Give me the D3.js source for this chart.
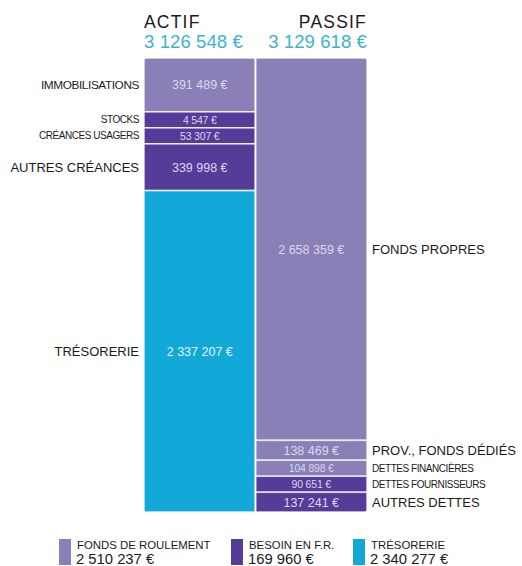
<!DOCTYPE html>
<html><head><meta charset="utf-8">
<script src="https://cdn.jsdelivr.net/npm/d3@7"></script>
<style>body{margin:0;background:#fff}svg{display:block;font-family:"Liberation Sans",Arial,sans-serif}</style>
</head><body><svg id="c" width="522" height="566"></svg>
<script>
const actifLabels = ["IMMOBILISATIONS","STOCKS","CRÉANCES USAGERS","AUTRES CRÉANCES","TRÉSORERIE"];
const actifValues = [391489, 4547, 53307, 339998, 2337207];
const actifGroups = ["fr","bfr","bfr","bfr","tr"];
const passifLabels = ["FONDS PROPRES","PROV., FONDS DÉDIÉS","DETTES FINANCIÈRES","DETTES FOURNISSEURS","AUTRES DETTES"];
const passifValues = [2658359, 138469, 104898, 90651, 137241];
const passifGroups = ["fr","fr","fr","bfr","bfr"];
const columnTitles = ["ACTIF","PASSIF"];
const columnTotals = [3126548, 3129618];
const legendKeys = ["fr","bfr","tr"];
const legendLabels = ["FONDS DE ROULEMENT","BESOIN EN F.R.","TRÉSORERIE"];
const legendValues = [2510237, 169960, 2340277];

const color = d3.scaleOrdinal().domain(["fr","bfr","tr"]).range(["#8a7fb7","#553c98","#12a9d9"]);
const loc = d3.formatLocale({decimal:",", thousands:"\u00a0", grouping:[3], currency:[""," €"]});
const fmt = v => loc.format(",")(v) + "\u00a0€";

const svg = d3.select("#c");
const yTop = 58, yBottom = 512, minH = 16;
const x = d3.scaleBand().domain(columnTitles).range([144, 367]).paddingInner(0.0);
const condensed = new Set(["IMMOBILISATIONS"]);

function layout(values){
  const H = yBottom - yTop;
  let fixed = values.map(()=>false);
  let h;
  for (let it=0; it<10; it++){
    const nFixed = fixed.filter(f=>f).length;
    const freeSum = d3.sum(values.filter((v,i)=>!fixed[i]));
    const s = d3.scaleLinear().domain([0, freeSum]).range([0, H - nFixed*minH]);
    h = values.map((v,i)=> fixed[i] ? minH : s(v));
    let changed = false;
    h.forEach((hh,i)=>{ if(!fixed[i] && hh<minH){ fixed[i]=true; changed=true; } });
    if(!changed) break;
  }
  let y = yTop;
  return h.map(hh=>{ const o={y0:y,y1:y+hh,h:hh}; y+=hh; return o; });
}

const cols = [
  {title:columnTitles[0], total:columnTotals[0], labels:actifLabels, values:actifValues, groups:actifGroups, side:"left"},
  {title:columnTitles[1], total:columnTotals[1], labels:passifLabels, values:passifValues, groups:passifGroups, side:"right"}
];

svg.append("clipPath").attr("id","rc").append("rect")
  .attr("x",144).attr("y",yTop).attr("width",223).attr("height",yBottom-yTop).attr("rx",4);

const g = svg.append("g").attr("clip-path","url(#rc)");

cols.forEach((c,ci)=>{
  const lay = layout(c.values);
  const x0 = x(c.title), w = x.bandwidth();
  lay.forEach((L,i)=>{
    g.append("rect").attr("x",x0).attr("y",L.y0).attr("width",w).attr("height",L.h)
      .attr("fill",color(c.groups[i])).attr("stroke","#fff").attr("stroke-opacity",0.75).attr("stroke-width",1.6);
    const small = L.h < 17;
    svg.append("text").attr("x",x0+w/2).attr("y",(L.y0+L.y1)/2)
      .attr("dy","0.36em").attr("text-anchor","middle")
      .attr("fill", c.groups[i]==="tr" ? "#e6f4fa" : "#dcd7ee")
      .attr("font-size", small?10.5:12.5).attr("letter-spacing", small?-0.2:0)
      .text(fmt(c.values[i]));
    const lx = c.side==="left" ? 139 : 372;
    const isC = condensed.has(c.labels[i]);
    const fs = small ? 10 : (isC ? 11.8 : 13);
    svg.append("text").attr("x",lx).attr("y",(L.y0+L.y1)/2).attr("dy","0.36em")
      .attr("text-anchor", c.side==="left"?"end":"start")
      .attr("fill","#1a1a1a")
      .attr("font-size", fs).attr("letter-spacing", small?-0.45:(isC?-0.4:0))
      .text(c.labels[i]);
  });
  const anchorX = ci===0 ? x0 : x0+w;
  const anchor = ci===0 ? "start" : "end";
  svg.append("text").attr("x",anchorX).attr("y",27.5).attr("text-anchor",anchor)
    .attr("font-size",17.5).attr("fill","#1a1a1a").attr("letter-spacing",1.2).text(c.title);
  svg.append("text").attr("x",anchorX).attr("y",47.5).attr("text-anchor",anchor)
    .attr("font-size",18.5).attr("fill","#3cb3cc").attr("letter-spacing",0.1).text(fmt(c.total));
});
svg.append("line").attr("x1",x(columnTitles[1])).attr("x2",x(columnTitles[1]))
  .attr("y1",yTop).attr("y2",yBottom).attr("stroke","#fff").attr("stroke-width",1.6).attr("stroke-opacity",0.8);

const legX = [59, 231, 353];
legendKeys.forEach((k,i)=>{
  const lg = svg.append("g").attr("transform",`translate(${legX[i]},539)`);
  lg.append("rect").attr("width",12).attr("height",26).attr("fill",color(k));
  lg.append("text").attr("x",18).attr("y",9.5).attr("font-size",11.4).attr("fill","#1a1a1a").text(legendLabels[i]);
  lg.append("text").attr("x",17).attr("y",25).attr("font-size",14.8).attr("fill","#1a1a1a").text(fmt(legendValues[i]));
});
</script></body></html>
